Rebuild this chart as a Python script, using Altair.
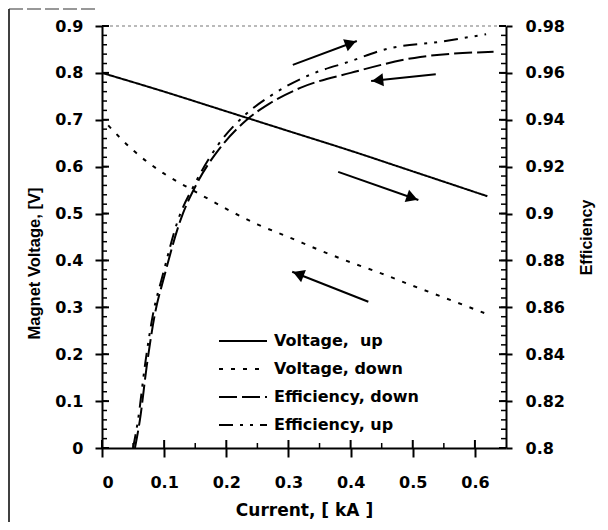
import math
import altair as alt
import pandas as pd

# ---------------- data ----------------
v_up_x = [0.0, 0.1, 0.2, 0.3, 0.4, 0.5, 0.62]
v_up_y = [0.800, 0.760, 0.718, 0.676, 0.634, 0.590, 0.537]

v_down_x = [0.01, 0.05, 0.1, 0.15, 0.2, 0.25, 0.3, 0.35, 0.4, 0.45, 0.5, 0.55, 0.615]
v_down_y = [0.688, 0.635, 0.585, 0.547, 0.510, 0.477, 0.450, 0.422, 0.396, 0.372, 0.346, 0.321, 0.288]

eff_down_x = [0.053, 0.061, 0.072, 0.085, 0.1, 0.126, 0.153, 0.19, 0.233, 0.27, 0.319, 0.4, 0.512, 0.63]
eff_down_y = [0.800, 0.812, 0.835, 0.857, 0.873, 0.897, 0.913, 0.928, 0.940, 0.947, 0.9536, 0.960, 0.9668, 0.969]

eff_up_x = [0.05, 0.058, 0.069, 0.082, 0.097, 0.122, 0.15, 0.186, 0.23, 0.27, 0.333, 0.4, 0.455, 0.55, 0.618]
eff_up_y = [0.800, 0.812, 0.835, 0.857, 0.873, 0.897, 0.913, 0.929, 0.942, 0.950, 0.959, 0.965, 0.970, 0.9735, 0.9765]

series_names = ["Voltage, \u00a0up", "Voltage, down", "Efficiency, down", "Efficiency, up"]
series_dash = [[1, 0], [4, 8], [18, 5], [14, 7, 3, 7, 3, 7]]

# arrows (tail -> tip), in left-axis units
arrow_x1 = [0.307, 0.537, 0.380, 0.4285]
arrow_y1 = [0.817, 0.797, 0.589, 0.312]
arrow_x2 = [0.410, 0.433, 0.509, 0.306]
arrow_y2 = [0.868, 0.7825, 0.529, 0.376]

x_ticks = [0, 0.1, 0.2, 0.3, 0.4, 0.5, 0.6]
x_minor = [0.05, 0.15, 0.25, 0.35, 0.45, 0.55]
left_ticks = [0, 0.1, 0.2, 0.3, 0.4, 0.5, 0.6, 0.7, 0.8, 0.9]
left_minor = [round(i * 0.02, 2) for i in range(46)]
right_ticks = [0.8, 0.82, 0.84, 0.86, 0.88, 0.9, 0.92, 0.94, 0.96, 0.98]
right_minor = [round(0.8 + i * 0.004, 3) for i in range(46)]

# ---------------- layout ----------------
W, H = 404, 422
XDOM = [0, 0.65]
LDOM = [0, 0.9]
RDOM = [0.8, 0.98]
FONT = "Liberation Sans"
WIDE = "DejaVu Sans"

SX = W / (XDOM[1] - XDOM[0])
SYL = H / (LDOM[1] - LDOM[0])

volt = pd.DataFrame({
    "x": v_up_x + v_down_x,
    "y": v_up_y + v_down_y,
    "series": [series_names[0]] * len(v_up_x) + [series_names[1]] * len(v_down_x),
})
eff = pd.DataFrame({
    "x": eff_down_x + eff_up_x,
    "y": eff_down_y + eff_up_y,
    "series": [series_names[2]] * len(eff_down_x) + [series_names[3]] * len(eff_up_x),
})


def right_to_left(e):
    return LDOM[0] + (e - RDOM[0]) / (RDOM[1] - RDOM[0]) * (LDOM[1] - LDOM[0])


HEAD = 170
r = math.sqrt(HEAD) / 2
heads = []
for x1, y1, x2, y2 in zip(arrow_x1, arrow_y1, arrow_x2, arrow_y2):
    dx = (x2 - x1) * SX
    dy = -(y2 - y1) * SYL
    L = math.hypot(dx, dy)
    ux, uy = dx / L, dy / L
    ang = math.degrees(math.atan2(dy, dx)) % 360
    heads.append({"x": x2 - r * ux / SX, "y": y2 + r * uy / SYL, "angle": ang})
heads = pd.DataFrame(heads)
arrows = pd.DataFrame({"x": arrow_x1, "y": arrow_y1, "x2": arrow_x2, "y2": arrow_y2})

# inward tick marks (axis decoration), from the tick lists
ticks = []
for v in left_minor:
    ticks.append({"x": XDOM[0] + 2.5 / SX, "y": v, "a": 0, "s": 25, "w": 1.5})
for v in left_ticks:
    ticks.append({"x": XDOM[0] + 3.5 / SX, "y": v, "a": 0, "s": 49, "w": 2})
for e in right_minor:
    ticks.append({"x": XDOM[1] - 2.5 / SX, "y": right_to_left(e), "a": 0, "s": 25, "w": 1.5})
for e in right_ticks:
    ticks.append({"x": XDOM[1] - 3.5 / SX, "y": right_to_left(e), "a": 0, "s": 49, "w": 2})
for t in x_minor:
    ticks.append({"x": t, "y": LDOM[0] + 2.5 / SYL, "a": 90, "s": 25, "w": 1.5})
for t in x_ticks:
    ticks.append({"x": t, "y": LDOM[0] + 4 / SYL, "a": 90, "s": 64, "w": 2})
ticks = pd.DataFrame(ticks)

x_axis = alt.Axis(values=x_ticks, format="~g", tickSize=9, labelPadding=17,
                  title="Current, [ kA ]", titlePadding=12, titleFont=WIDE, titleFontSize=17)
l_axis = alt.Axis(values=left_ticks, format="~g", tickSize=7, labelPadding=12,
                  title="Magnet Voltage, [V]", titlePadding=12, titleFontSize=16.5,
                  titleY=237)
r_axis = alt.Axis(values=right_ticks, format="~g", tickSize=6, labelPadding=13, orient="right",
                  title="Efficiency", titlePadding=30, titleAngle=-90)

X = alt.X("x:Q", scale=alt.Scale(domain=XDOM, nice=False, zero=False), axis=x_axis)
YL = alt.Y("y:Q", scale=alt.Scale(domain=LDOM, nice=False, zero=False), axis=l_axis)
YR = alt.Y("y:Q", scale=alt.Scale(domain=RDOM, nice=False, zero=False), axis=r_axis)

dash = alt.StrokeDash(
    "series:N",
    scale=alt.Scale(domain=series_names, range=series_dash),
    legend=alt.Legend(
        orient="none", legendX=116, legendY=306, title=None,
        symbolType="stroke", symbolSize=2304, symbolStrokeWidth=2,
        symbolStrokeColor="black", clipHeight=18, rowPadding=10,
        labelFont=WIDE, labelFontSize=16, labelFontWeight="bold",
        labelColor="black", labelOffset=6, padding=0,
    ),
)

volt_lines = alt.Chart(volt).mark_line(color="black", strokeWidth=2, interpolate="monotone").encode(
    x=X, y=YL, strokeDash=dash, detail="series:N")

eff_lines = alt.Chart(eff).mark_line(color="black", strokeWidth=2, interpolate="monotone").encode(
    x=X, y=YR, strokeDash=dash, detail="series:N")

arrow_lines = alt.Chart(arrows).mark_rule(color="black", strokeWidth=2).encode(
    x=X, y=YL, x2="x2:Q", y2="y2:Q")
arrow_heads = alt.Chart(heads).mark_point(shape="triangle-right", filled=True, color="black",
                                          size=HEAD, opacity=1).encode(
    x=X, y=YL, angle=alt.Angle("angle:Q", scale=None))
tick_marks = alt.Chart(ticks).mark_point(shape="stroke", filled=False, color="black",
                                         opacity=1).encode(
    x=X, y=YL,
    angle=alt.Angle("a:Q", scale=None),
    size=alt.Size("s:Q", scale=None, legend=None),
    strokeWidth=alt.StrokeWidth("w:Q", scale=None, legend=None),
)

top_line = alt.Chart(pd.DataFrame({"k": [0]})).mark_rule(color="#777", strokeWidth=1.2,
                                                          strokeDash=[3, 3]).encode(
    x=alt.value(8), x2=alt.value(W - 6), y=alt.value(0))
frame_left = alt.Chart(pd.DataFrame({"k": [0]})).mark_rule(color="black", strokeWidth=1.5).encode(
    x=alt.value(-93), y=alt.value(-17), y2=alt.value(H + 90))
frame_top = alt.Chart(pd.DataFrame({"k": [0]})).mark_rule(color="#333", strokeWidth=1.2,
                                                           strokeDash=[14, 4]).encode(
    x=alt.value(-93), x2=alt.value(-5), y=alt.value(-17))

left = alt.layer(volt_lines, arrow_lines, arrow_heads, tick_marks)
right = alt.layer(eff_lines)
overlay = alt.layer(top_line, frame_left, frame_top)

chart = alt.layer(left, right, overlay).resolve_scale(y="independent").properties(
    width=W, height=H,
    autosize=alt.AutoSizeParams(type="none"),
    padding={"left": 94, "top": 18, "right": 94, "bottom": 74},
).configure_view(stroke=None).configure_axis(
    labelFont=WIDE, labelFontSize=16, labelFontWeight="bold", labelColor="black",
    titleFont=FONT, titleFontSize=16, titleFontWeight="bold", titleColor="black",
    domainColor="black", domainWidth=2, tickColor="black", tickWidth=2, grid=False,
)

chart.save("out.html", embed_options={"renderer": "svg", "actions": False})
